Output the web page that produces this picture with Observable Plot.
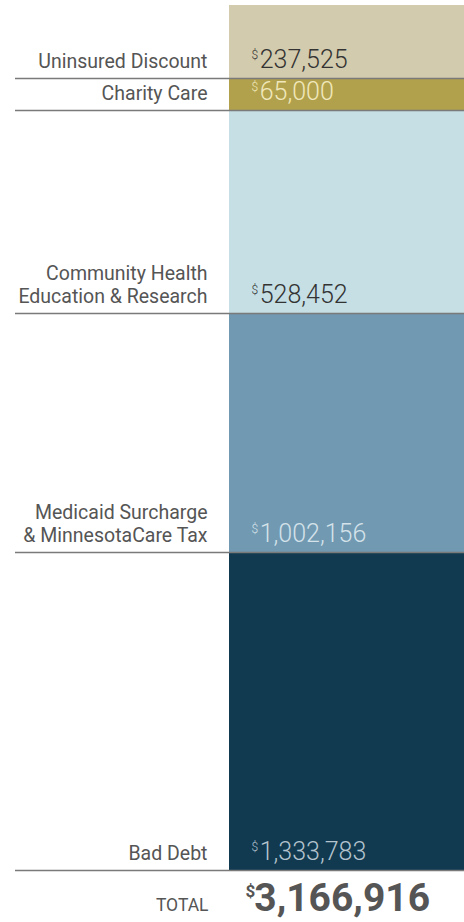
<!DOCTYPE html>
<html><head><meta charset="utf-8">
<script src="https://cdn.jsdelivr.net/npm/d3@7"></script>
<script src="https://cdn.jsdelivr.net/npm/@observablehq/plot@0.6"></script>
<style>body{margin:0;background:#fff}</style>
</head><body><div id="chart"></div>
<script>
// bottom-to-top stacking order
const categories = ["Bad Debt", "Medicaid Surcharge\n& MinnesotaCare Tax", "Community Health\nEducation & Research", "Charity Care", "Uninsured Discount"];
const values = [1333783, 1002156, 528452, 65000, 237525];
const colors = ["#113a50", "#7199b1", "#c5dfe5", "#b2a14c", "#d3cbad"];
const valueColors = ["#b4c3ce", "#d4e2ea", "#333333", "#f0e8bc", "#333333"];
const totalLabel = "TOTAL";

const ends = d3.cumsum(values);
const data = categories.map((c, i) => ({
  category: c, value: values[i], color: colors[i], vcolor: valueColors[i],
  start: ends[i] - values[i], end: ends[i]
}));
const total = d3.sum(values);
const fmt = d3.format(",");
const font = "Roboto, 'Open Sans', sans-serif";

const svg = Plot.plot({
  width: 464, height: 922,
  marginLeft: 15, marginRight: 0, marginTop: 5, marginBottom: 52,
  style: {fontFamily: font, background: "#fff"},
  x: {type: "band", domain: ["all"], range: [229, 464], padding: 0, axis: null},
  y: {type: "linear", domain: [0, ...ends], range: [870, 552, 313, 110, 78, 5], axis: null},
  marks: [
    Plot.barY(data, {x: () => "all", y: "value", fill: d => d.color, order: null}),
    Plot.ruleY(data, {y: "start", stroke: "#7a7a7a", strokeWidth: 1.5}),
    Plot.text(data, {y: "start", text: "category", frameAnchor: "left", dx: 192, dy: -11,
      textAnchor: "end", lineAnchor: "bottom", lineHeight: 1.13, fill: "#555", fontSize: 19.5}),
    Plot.text(data, {y: "start", text: d => "$" + fmt(d.value), frameAnchor: "left", dx: 236, dy: -11,
      textAnchor: "start", lineAnchor: "bottom", fill: d => d.vcolor, fontSize: 25, fontWeight: 300,
      className: "vals"}),
    Plot.text([total], {text: () => totalLabel, frameAnchor: "bottom-left", dx: 193, dy: 40,
      textAnchor: "end", lineAnchor: "bottom", fill: "#555", fontSize: 17.5}),
    Plot.text([total], {text: d => "$" + fmt(d), frameAnchor: "bottom-left", dx: 230, dy: 40,
      textAnchor: "start", lineAnchor: "bottom", fill: "#555", fontSize: 39, fontWeight: 700,
      className: "vals big"})
  ]
});

d3.select(svg).selectAll(".vals text").each(function() {
  const t = this.textContent;
  if (!t.startsWith("$")) return;
  const big = this.parentNode.classList.contains("big");
  const sel = d3.select(this);
  sel.text(null);
  sel.append("tspan").attr("font-size", big ? 17 : 12).attr("dy", big ? -14 : -9).text("$");
  sel.append("tspan").attr("dy", big ? 14 : 9).attr("dx", big ? -1 : 1.5).text(t.slice(1));
});

document.getElementById("chart").appendChild(svg);
</script></body></html>
